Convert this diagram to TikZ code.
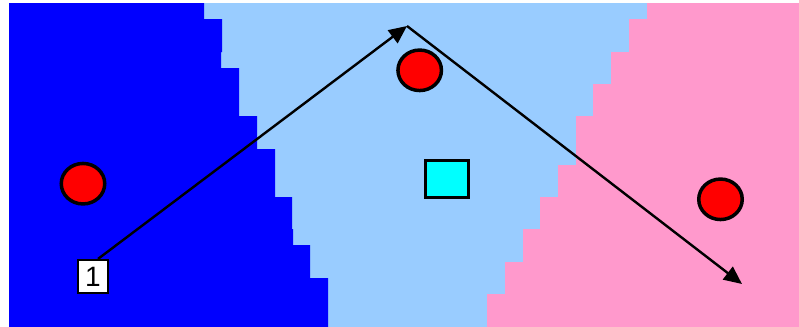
\documentclass[tikz,border=0pt]{standalone}
\usepackage{fontspec}
\setmainfont{Liberation Sans}
\usetikzlibrary{arrows.meta, shapes.geometric}
\definecolor{zoneleft}{HTML}{0000FF}
\definecolor{zonemid}{HTML}{99CCFF}
\definecolor{zoneright}{HTML}{FF99CC}
\definecolor{token}{HTML}{FF0000}
\definecolor{goal}{HTML}{00FFFF}

\begin{document}
\begin{tikzpicture}[
    x=0.5pt, y=-0.5pt,
    >={Triangle[length=9pt, width=8pt]},
    disc/.style={ellipse, draw, fill=token, line width=1.75pt, inner sep=0pt,
                 minimum width=21.75pt, minimum height=20.25pt},
    goalbox/.style={rectangle, draw, fill=goal, line width=1.5pt, inner sep=0pt,
                    minimum width=21.4pt, minimum height=18.5pt},
    startbox/.style={rectangle, draw, fill=white, line width=1.1pt, inner sep=0pt,
                     minimum width=15pt, minimum height=16.5pt,
                     font=\fontsize{14}{16}\selectfont},
    route/.style={->, line width=1.2pt},
]
\useasboundingbox (0,0) rectangle (799,327);

% zones
\fill[zonemid] (9,3) rectangle (799,327);
\fill[zoneleft] (9,3) -- (204,3) -- (204,19) -- (222,19) -- (222,52) -- (221,52)
    -- (221,68) -- (239,68) -- (239,116) -- (257,116) -- (257,149) -- (275,149)
    -- (275,197) -- (292,197) -- (292,229) -- (293,229) -- (293,245) -- (310,245)
    -- (310,278) -- (328,278) -- (328,327) -- (9,327) -- cycle;
\fill[zoneright] (647,3) -- (799,3) -- (799,327) -- (487,327) -- (487,294)
    -- (505,294) -- (505,262) -- (523,262) -- (523,229) -- (540,229) -- (540,197)
    -- (558,197) -- (558,165) -- (576,165) -- (576,116) -- (593,116) -- (593,84)
    -- (611,84) -- (611,52) -- (629,52) -- (629,19) -- (647,19) -- cycle;

% tokens
\node[disc] (dleft) at (83,183.7) {};
\node[disc] (dtop) at (419.7,70.3) {};
\node[disc] (dright) at (720.5,199.3) {};
\node[goalbox] (goal) at (447,179.3) {};
\node[startbox] (one) at (93,276.5) {1};

% route
\coordinate (apex) at (407,26);
\coordinate (tip) at (742,284);
\draw[route] (one.74) -- (apex);
\draw[route] (apex) -- (tip);

\end{tikzpicture}
\end{document}
